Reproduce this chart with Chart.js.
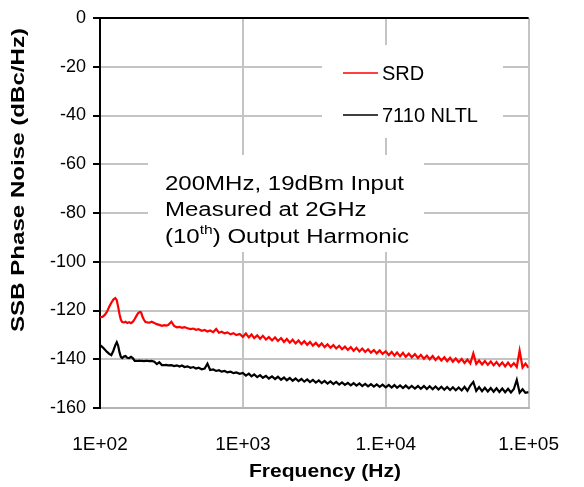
<!DOCTYPE html>
<html>
<head>
<meta charset="utf-8">
<script src="https://cdn.jsdelivr.net/npm/chart.js@4.4.1/dist/chart.umd.min.js"></script>
<style>
  html, body { margin: 0; padding: 0; background: #fff; }
  #wrap { width: 584px; height: 487px; }
</style>
</head>
<body>
<div id="wrap"><canvas id="noiseChart" width="584" height="487"></canvas></div>
<script>
// --- data ---
const freqHz = [
  100, 104, 108, 112, 116, 120, 124, 128, 131, 134,
  137, 140, 143, 147, 151, 155, 160, 165, 170, 175,
  180, 185, 190, 194, 198, 203, 208, 215, 222, 230,
  240, 250, 260, 271, 282, 290, 300, 316, 330, 345,
  360, 375, 390, 410, 430, 450, 470, 490, 515, 540,
  565, 590, 620, 650, 680, 710, 745, 780, 820, 860,
  900, 950, 1000, 1050, 1100, 1150, 1200, 1260, 1320, 1380,
  1450, 1520, 1600, 1680, 1760, 1850, 1940, 2030, 2130, 2230,
  2340, 2450, 2570, 2690, 2820, 2950, 3090, 3240, 3400, 3560,
  3730, 3910, 4100, 4300, 4500, 4720, 4940, 5180, 5430, 5690,
  5960, 6240, 6540, 6850, 7180, 7520, 7880, 8260, 8650, 9070,
  9500, 10000, 10500, 11000, 11500, 12000, 12600, 13200, 13800, 14500,
  15200, 16000, 16800, 17600, 18500, 19400, 20300, 21300, 22300, 23400,
  24500, 25700, 26900, 28200, 29500, 30900, 32400, 34000, 35600, 37300,
  39100, 41000, 43000, 45000, 47200, 49400, 51800, 54300, 56900, 59600,
  62400, 65400, 68500, 71800, 75200, 78800, 82600, 86500, 90700, 95000,
  100000
];

const srdNoise = [
  -122.7, -122.6, -121.8, -120.5, -118.5, -116.8, -115.5, -114.9, -115.8, -118.5,
  -121.5, -123.8, -124.7, -124.9, -124.6, -125.1, -124.8, -125.2, -124.6, -123.5,
  -122.2, -121.0, -120.6, -120.8, -122.5, -123.8, -124.7, -124.9, -125.0, -124.6,
  -125.1, -125.6, -125.9, -126.3, -126.0, -126.2, -126.0, -124.6, -126.3, -126.9,
  -126.7, -127.1, -126.8, -127.3, -127.6, -127.4, -127.9, -127.7, -128.3, -128.0,
  -128.6, -128.2, -128.9, -127.6, -129.1, -128.7, -129.4, -129.0, -129.8, -129.3,
  -130.1, -129.6, -130.8, -129.4, -131.0, -129.8, -131.3, -130.2, -131.6, -130.4,
  -131.9, -130.9, -132.3, -131.0, -132.5, -131.3, -132.9, -131.7, -133.2, -132.0,
  -133.5, -132.3, -133.8, -132.6, -134.1, -132.9, -134.4, -133.3, -134.7, -133.5,
  -135.0, -133.9, -135.3, -134.2, -135.6, -134.5, -135.9, -134.8, -136.2, -135.0,
  -136.5, -135.3, -136.8, -135.6, -137.0, -135.9, -137.3, -136.2, -137.6, -136.4,
  -137.8, -136.7, -138.3, -137.0, -138.5, -137.2, -138.8, -137.4, -139.0, -137.7,
  -139.2, -137.9, -139.5, -138.2, -139.8, -138.5, -140.0, -138.7, -140.3, -139.0,
  -140.5, -139.2, -140.8, -139.4, -141.0, -139.7, -141.2, -139.9, -141.5, -140.1,
  -141.7, -137.6, -141.9, -140.5, -142.1, -140.7, -142.3, -140.9, -142.5, -141.1,
  -142.7, -141.3, -142.9, -141.4, -143.0, -141.6, -143.2, -136.5, -143.4, -141.8,
  -143.5
];

const nltlNoise = [
  -134.2, -135.0, -136.0, -137.0, -137.8, -138.3, -136.5, -134.2, -133.0, -134.5,
  -137.2, -139.0, -139.5, -138.9, -138.7, -139.4, -139.5, -139.0, -139.6, -140.7,
  -140.7, -140.7, -140.6, -140.7, -140.7, -140.8, -140.7, -140.7, -140.8, -140.7,
  -141.0, -142.0, -141.2, -142.4, -142.4, -142.3, -142.5, -142.4, -142.8, -142.5,
  -143.0, -142.6, -143.2, -142.9, -143.5, -143.2, -143.8, -143.5, -144.1, -143.8,
  -141.8, -144.4, -144.2, -144.8, -144.5, -145.1, -144.8, -145.4, -145.1, -145.7,
  -145.4, -146.0, -145.6, -146.7, -145.9, -147.0, -146.2, -147.3, -146.5, -147.6,
  -146.8, -147.9, -147.0, -148.1, -147.2, -148.4, -147.5, -148.6, -147.7, -148.8,
  -147.9, -149.0, -148.1, -149.2, -148.3, -149.4, -148.5, -149.6, -148.7, -149.8,
  -148.9, -150.0, -149.1, -150.2, -149.3, -150.4, -149.5, -150.5, -149.7, -150.7,
  -149.8, -150.8, -149.9, -151.0, -150.1, -151.1, -150.2, -151.2, -150.3, -151.3,
  -150.4, -151.5, -150.5, -151.6, -150.6, -151.7, -150.7, -151.8, -150.8, -151.9,
  -150.9, -152.0, -151.0, -152.1, -151.0, -152.2, -151.1, -152.3, -151.2, -152.4,
  -151.3, -152.5, -151.4, -152.6, -151.5, -152.7, -151.6, -152.8, -151.3, -152.9,
  -150.8, -149.3, -153.0, -151.4, -153.1, -151.7, -153.2, -151.8, -153.3, -151.9,
  -153.4, -152.0, -153.5, -152.1, -153.6, -152.2, -148.5, -153.7, -152.3, -153.8,
  -153.5
];

const seriesNames = ['SRD', '7110 NLTL'];
const xTickValues = [100, 1000, 10000, 100000];
const xTickLabels = ['1E+02', '1E+03', '1.E+04', '1.E+05'];
const yMin = -160, yMax = 0, yStep = 20;
const xTitle = 'Frequency (Hz)';
const yTitle = 'SSB Phase Noise (dBc/Hz)';
const noteLine1 = '200MHz, 19dBm Input';
const noteLine2 = 'Measured at 2GHz';
const noteLine3 = ['(10', 'th', ') Output Harmonic'];

const FONT = '"Liberation Sans", Arial, sans-serif';

// text squeezed/stretched to a given width (excel export looks wider than Arial)
function drawFitted(ctx, text, cx, cy, targetW, rotate) {
  const w = ctx.measureText(text).width;
  ctx.save();
  ctx.translate(cx, cy);
  if (rotate) ctx.rotate(-Math.PI / 2);
  ctx.scale(targetW / w, 1);
  ctx.textAlign = 'center';
  ctx.textBaseline = 'middle';
  ctx.fillText(text, 0, 0);
  ctx.restore();
}

// --- legend + annotation boxes, drawn over the grid but under the lines ---
const boxesPlugin = {
  id: 'boxes',
  beforeDatasetsDraw(chart) {
    const ctx = chart.ctx;
    ctx.save();
    ctx.fillStyle = '#fff';
    ctx.fillRect(322, 45, 181, 93);
    ctx.fillRect(148, 155, 276, 97);

    // legend
    const rows = [73, 115];
    chart.data.datasets.forEach((ds, i) => {
      ctx.strokeStyle = ds.borderColor;
      ctx.lineWidth = 1.5;
      ctx.beginPath();
      ctx.moveTo(343, rows[i]);
      ctx.lineTo(378, rows[i]);
      ctx.stroke();
      ctx.fillStyle = '#000';
      ctx.font = '20px ' + FONT;
      ctx.textAlign = 'left';
      ctx.textBaseline = 'middle';
      ctx.fillText(ds.label, 382, rows[i] + 1);
    });

    // annotation text
    ctx.fillStyle = '#000';
    ctx.font = '20px ' + FONT;
    const sx = 239 / ctx.measureText(noteLine1).width;
    ctx.translate(165, 0);
    ctx.scale(sx, 1);
    ctx.textAlign = 'left';
    ctx.textBaseline = 'middle';
    ctx.fillText(noteLine1, 0, 184);
    ctx.fillText(noteLine2, 0, 210);
    let x = 0;
    ctx.fillText(noteLine3[0], x, 237);
    x += ctx.measureText(noteLine3[0]).width;
    ctx.font = '13px ' + FONT;
    ctx.fillText(noteLine3[1], x, 230);
    x += ctx.measureText(noteLine3[1]).width;
    ctx.font = '20px ' + FONT;
    ctx.fillText(noteLine3[2], x, 237);
    ctx.restore();
  },
  afterDraw(chart) {
    const ctx = chart.ctx;
    ctx.save();
    ctx.fillStyle = '#000';
    ctx.font = 'bold 19px ' + FONT;
    drawFitted(ctx, xTitle, 325, 472, 152, false);
    drawFitted(ctx, yTitle, 19, 180, 304, true);
    ctx.restore();
  }
};

const ctx = document.getElementById('noiseChart').getContext('2d');
new Chart(ctx, {
  type: 'line',
  data: {
    datasets: [
      {
        label: seriesNames[0],
        data: freqHz.map((f, i) => ({ x: f, y: srdNoise[i] })),
        borderColor: '#ff0000',
        borderWidth: 2.2,
        pointRadius: 0,
        tension: 0
      },
      {
        label: seriesNames[1],
        data: freqHz.map((f, i) => ({ x: f, y: nltlNoise[i] })),
        borderColor: '#000000',
        borderWidth: 2.2,
        pointRadius: 0,
        tension: 0
      }
    ]
  },
  options: {
    responsive: false,
    animation: false,
    layout: { padding: { top: 18, right: 33, left: 0, bottom: 0 } },
    plugins: {
      legend: { display: false },
      tooltip: { enabled: false }
    },
    scales: {
      x: {
        type: 'logarithmic',
        min: 100,
        max: 100000,
        afterFit(scale) { scale.height = 79; },
        afterBuildTicks(scale) { scale.ticks = xTickValues.map(v => ({ value: v })); },
        ticks: {
          autoSkip: false,
          maxRotation: 0,
          padding: 25,
          color: '#000',
          font: { family: FONT, size: 19 },
          callback: (v) => xTickLabels[xTickValues.indexOf(v)]
        },
        grid: { color: '#c4c4c4', lineWidth: 2, drawTicks: false },
        border: { color: '#b4b4b4', width: 2 }
      },
      y: {
        min: yMin,
        max: yMax,
        afterFit(scale) { scale.width = 100; },
        ticks: {
          stepSize: yStep,
          padding: 7,
          color: '#000',
          font: { family: FONT, size: 18 }
        },
        grid: {
          color: (c) => (c.tick && c.tick.value === 0 ? '#000' : '#c4c4c4'),
          lineWidth: 2,
          tickLength: 7,
          tickColor: '#000',
          tickWidth: 2
        },
        border: { color: '#000', width: 2 }
      }
    }
  },
  plugins: [boxesPlugin]
});
</script>
</body>
</html>
